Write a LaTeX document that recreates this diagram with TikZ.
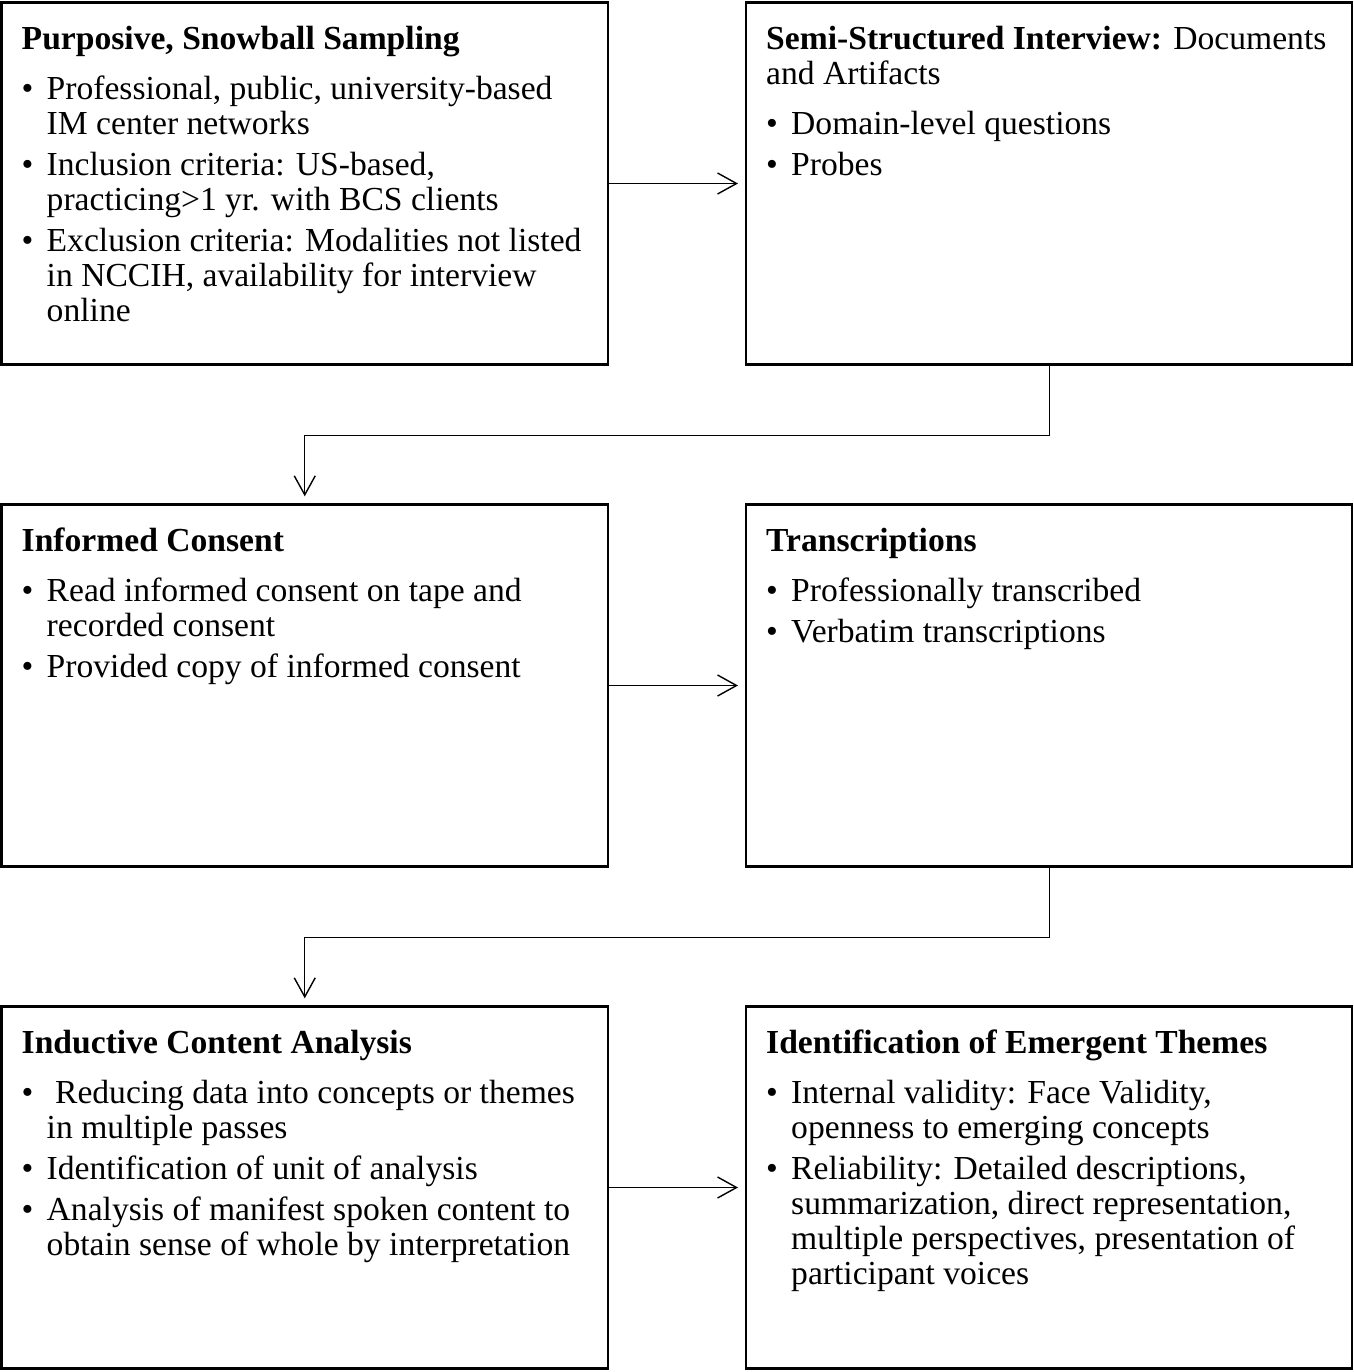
\documentclass[tikz,border=0pt]{standalone}
\usepackage{fontspec}
\setmainfont{Liberation Serif}
\usetikzlibrary{matrix,arrows.meta}

% box body: title on top, bullets below, filled to the fixed box height
\newcommand{\stepbody}[2]{\hbox to 303pt{\hskip 10pt\vbox to 181pt{\hsize=290pt\parindent=0pt\parskip=0pt
  \vskip 9.25pt\noindent\rule{0pt}{14pt}#1\par\vskip 4.5pt #2\par\vfil}\hss}}
\newcommand{\stepitem}[1]{\par\vskip 3pt\hangindent=12.5pt\hangafter=1\noindent\makebox[12.5pt][l]{\textbullet}#1}

\tikzset{
  stepbox/.style={draw, line width=1.25pt, inner sep=0pt, minimum width=303pt, minimum height=181pt},
  flow/.style={-{Straight Barb[length=9.5pt,width=10.5pt]}, line width=0.7pt, shorten >=3.5pt}
}

\begin{document}
\begin{tikzpicture}[font=\fontsize{16.8pt}{17.5pt}\selectfont]
  \useasboundingbox (0,0) rectangle (677pt,-686pt);
  \matrix (m) [matrix of nodes, row sep=68.75pt, column sep=68pt, inner sep=0pt, nodes={stepbox}] at (338.5pt,-342.75pt)
  {
\stepbody{\textbf{Purposive, Snowball Sampling}}{%
  \stepitem{Professional, public, university-based\newline IM center networks}
  \stepitem{Inclusion criteria: US-based,\newline practicing>1 yr. with BCS clients}
  \stepitem{Exclusion criteria: Modalities not listed\newline in NCCIH, availability for interview\newline online}} &
\stepbody{\textbf{Semi-Structured Interview:} Documents\newline and Artifacts}{%
  \stepitem{Domain-level questions}
  \stepitem{Probes}} \\
\stepbody{\textbf{Informed Consent}}{%
  \stepitem{Read informed consent on tape and\newline recorded consent}
  \stepitem{Provided copy of informed consent}} &
\stepbody{\textbf{Transcriptions}}{%
  \stepitem{Professionally transcribed}
  \stepitem{Verbatim transcriptions}} \\
\stepbody{\textbf{Inductive Content Analysis}}{%
  \stepitem{\ Reducing data into concepts or themes\newline in multiple passes}
  \stepitem{Identification of unit of analysis}
  \stepitem{Analysis of manifest spoken content to\newline obtain sense of whole by interpretation}} &
\stepbody{\textbf{Identification of Emergent Themes}}{%
  \stepitem{Internal validity: Face Validity,\newline openness to emerging concepts}
  \stepitem{Reliability: Detailed descriptions,\newline summarization, direct representation,\newline multiple perspectives, presentation of\newline participant voices}} \\
  };
  \path[flow]
  (m-1-1) edge (m-1-2)
  (m-2-1) edge (m-2-2)
  (m-3-1) edge (m-3-2);
  % row to row, down and back to the left
  \draw[flow] (m-1-2.south) -- ++(0,-35pt) -| (m-2-1.north);
  \draw[flow] (m-2-2.south) -- ++(0,-35pt) -| (m-3-1.north);
\end{tikzpicture}
\end{document}
